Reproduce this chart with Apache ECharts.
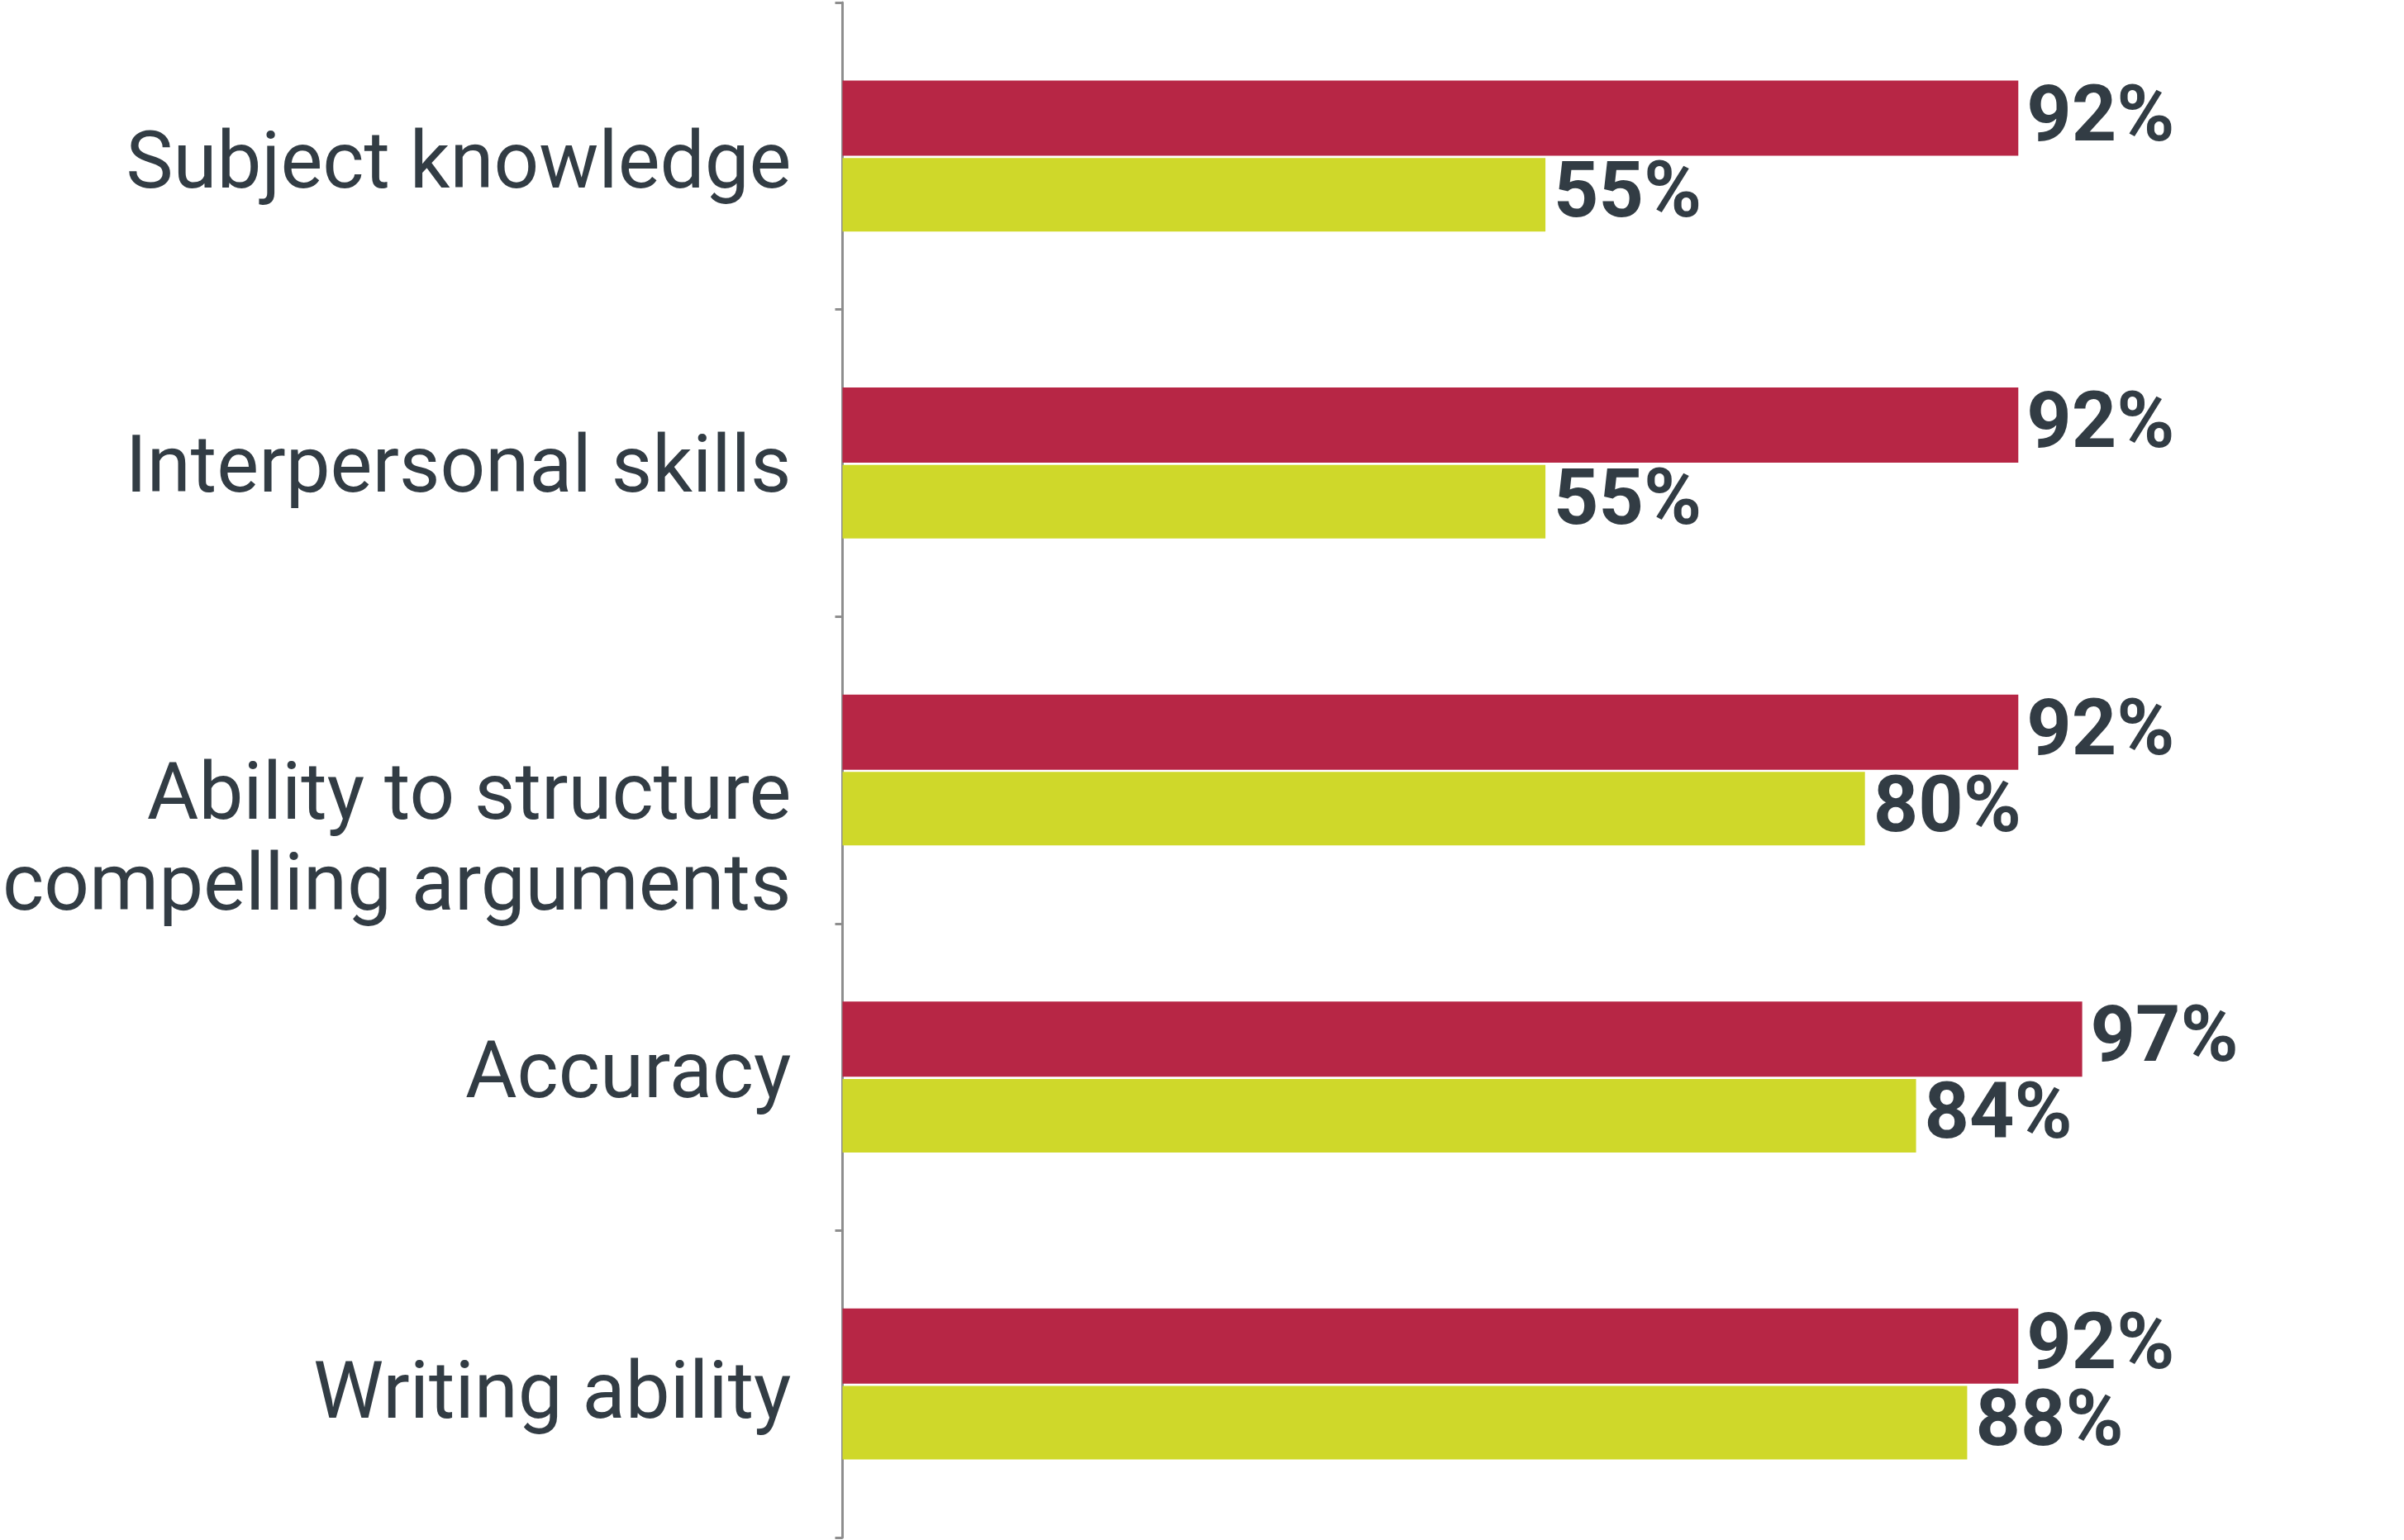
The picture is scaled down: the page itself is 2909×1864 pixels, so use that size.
<!DOCTYPE html>
<html>
<head>
<meta charset="utf-8">
<style>
  html, body { margin: 0; padding: 0; background: #ffffff; }
  #chart { width: 2909px; height: 1864px; }
</style>
<script src="https://cdn.jsdelivr.net/npm/echarts@6/dist/echarts.min.js"></script>
</head>
<body>
<div id="chart"></div>
<script>
// Skills, listed top to bottom
const categories = [
  'Subject knowledge',
  'Interpersonal skills',
  'Ability to structure\ncompelling arguments',
  'Accuracy',
  'Writing ability'
];
// Percentages for the two groups (red bar above, green bar below)
const groupA = [92, 92, 92, 97, 92];
const groupB = [55, 55, 80, 84, 88];

// ---- styling ----
const textColor = '#323c44';
const fontFamily = 'Roboto, "Noto Sans", sans-serif';
const catFontSize = 96;
const catLineHeight = 110;
// vertical nudge (px, + is down) of each category label inside its band
const labelNudge = [14, 11, 90, 0, 17];

const chart = echarts.init(document.getElementById('chart'), null, { renderer: 'canvas' });

// one rich style per category so each label can be nudged on its own
const richStyles = {};
labelNudge.forEach((d, i) => {
  richStyles['c' + i] = {
    fontFamily: fontFamily,
    fontSize: catFontSize,
    lineHeight: catLineHeight,
    color: textColor,
    align: 'right',
    padding: d >= 0 ? [2 * d, 0, 0, 0] : [0, 0, -2 * d, 0]
  };
});

const valueLabel = {
  show: true,
  position: 'right',
  distance: 10,
  offset: [0, 3],
  formatter: p => p.value + '%',
  color: textColor,
  fontFamily: fontFamily,
  fontWeight: 'bold',
  fontSize: 95
};

chart.setOption({
  animation: false,
  backgroundColor: '#ffffff',
  grid: { left: 1017, right: 343, top: 3, bottom: 3, containLabel: false },
  xAxis: {
    type: 'value',
    min: 0,
    max: 100,
    show: false
  },
  yAxis: {
    type: 'category',
    inverse: true,
    data: categories,
    axisLine: { show: true, lineStyle: { color: '#8e8e8e', width: 3 } },
    axisTick: { show: true, length: 9, lineStyle: { color: '#8e8e8e', width: 3 } },
    axisLabel: {
      interval: 0,
      margin: 62,
      color: textColor,
      fontFamily: fontFamily,
      fontSize: catFontSize,
      lineHeight: catLineHeight,
      align: 'right',
      formatter: (value, index) =>
        value.split('\n').map(line => '{c' + index + '|' + line + '}').join('\n'),
      rich: richStyles
    },
    splitLine: { show: false }
  },
  series: [
    {
      name: 'Group A',
      type: 'bar',
      data: groupA,
      barWidth: 91,
      barGap: '3%',
      itemStyle: { color: '#b72645' },
      label: valueLabel
    },
    {
      name: 'Group B',
      type: 'bar',
      data: groupB,
      barWidth: 89,
      itemStyle: { color: '#cfd82a' },
      label: valueLabel
    }
  ]
});
</script>
</body>
</html>
